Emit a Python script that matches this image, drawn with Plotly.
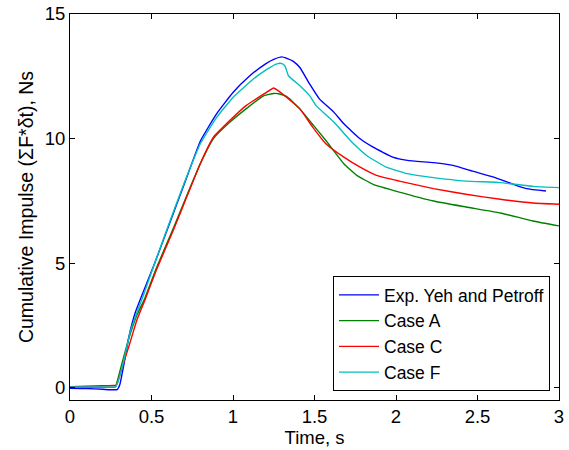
import plotly.graph_objects as go

# Exp. Yeh and Petroff
exp_t = [0, 0.1, 0.2, 0.26, 0.29, 0.305, 0.33, 0.36, 0.40, 0.45, 0.52, 0.6, 0.7, 0.8, 0.9,
         1.0, 1.1, 1.2, 1.25, 1.3, 1.33, 1.37, 1.41, 1.47, 1.53, 1.62, 1.68, 1.78, 1.86, 1.98,
         2.07, 2.23, 2.35, 2.47, 2.6, 2.72, 2.8, 2.92]
exp_v = [-0.03, -0.04, -0.07, -0.09, -0.08, 0.1, 0.9, 2.0, 3.0, 3.85, 5.0, 6.4, 8.15, 9.9, 11.0,
         11.85, 12.5, 13.0, 13.18, 13.28, 13.22, 13.1, 12.85, 12.19, 11.59, 11.05, 10.59, 9.99, 9.65, 9.25,
         9.12, 9.03, 8.92, 8.69, 8.45, 8.16, 7.99, 7.89]

# Case A
a_t = [0, 0.1, 0.2, 0.27, 0.28, 0.32, 0.36, 0.41, 0.46, 0.53, 0.634, 0.716, 0.8, 0.88, 0.98, 1.08,
       1.19, 1.25, 1.28, 1.33, 1.41, 1.47, 1.57, 1.68, 1.76, 1.86, 2.02, 2.23, 2.43, 2.64, 2.84, 3.0]
a_v = [0.01, 0.01, 0.01, 0.01, 0.05, 1.0, 1.95, 2.9, 3.6, 4.8, 6.4, 7.7, 9.0, 10.0, 10.65, 11.19,
       11.72, 11.81, 11.8, 11.68, 11.19, 10.72, 9.92, 8.99, 8.52, 8.16, 7.85, 7.49, 7.25, 7.01, 6.69, 6.49]

# Case C
c_t = [0, 0.1, 0.2, 0.27, 0.285, 0.32, 0.368, 0.41, 0.46, 0.53, 0.634, 0.716, 0.8, 0.88, 0.98, 1.08,
       1.19, 1.25, 1.27, 1.33, 1.41, 1.49, 1.57, 1.68, 1.78, 1.88, 2.02, 2.23, 2.43, 2.64, 2.84, 3.0]
c_v = [0.03, 0.05, 0.07, 0.08, 0.1, 0.8, 1.8, 2.7, 3.52, 4.72, 6.32, 7.65, 9.0, 10.05, 10.72, 11.32,
       11.79, 12.03, 11.95, 11.65, 11.19, 10.45, 9.79, 9.25, 8.85, 8.52, 8.29, 7.99, 7.76, 7.56, 7.41, 7.36]

# Case F
f_t = [0, 0.1, 0.2, 0.28, 0.29, 0.327, 0.368, 0.41, 0.45, 0.52, 0.6, 0.7, 0.8, 0.9, 1.0,
       1.125, 1.21, 1.27, 1.3, 1.32, 1.34, 1.41, 1.47, 1.51, 1.62, 1.72, 1.82, 1.94, 2.07, 2.23, 2.43,
       2.64, 2.84, 3.0]
f_v = [0.02, 0.02, 0.02, 0.03, 0.15, 1.0, 2.2, 3.0, 3.7, 5.0, 6.45, 8.2, 9.8, 10.85, 11.65,
       12.39, 12.79, 13.0, 13.01, 12.9, 12.52, 12.12, 11.72, 11.32, 10.65, 9.92, 9.32, 8.85, 8.59, 8.43, 8.29,
       8.23, 8.08, 8.03]

x_ticks = [0, 0.5, 1, 1.5, 2, 2.5, 3]
x_tick_labels = ["0", "0.5", "1", "1.5", "2", "2.5", "3"]
y_ticks = [0, 5, 10, 15]
y_tick_labels = ["0", "5", "10", "15"]

series = [
    ("Exp. Yeh and Petroff", exp_t, exp_v, "#0000FF"),
    ("Case A", a_t, a_v, "#008000"),
    ("Case C", c_t, c_v, "#FF0000"),
    ("Case F", f_t, f_v, "#00BFBF"),
]

FONT = "Liberation Sans"
FS = 18.5

fig = go.Figure()
for name, t, v, col in series:
    fig.add_trace(go.Scatter(x=t, y=v, mode="lines", name=name,
                             line=dict(color=col, width=1.4, shape="spline", smoothing=0.4)))

axis_common = dict(showline=True, linecolor="black", linewidth=1, mirror="ticks",
                   ticks="inside", ticklen=5, tickcolor="black", showgrid=False,
                   zeroline=False, automargin=False,
                   tickfont=dict(family=FONT, size=FS, color="black"))

fig.update_layout(
    width=569, height=450,
    margin=dict(l=70, r=10, t=14, b=50, autoexpand=False),
    paper_bgcolor="white", plot_bgcolor="white",
    font=dict(family=FONT, size=FS, color="black"),
    xaxis=dict(range=[0, 3], tickvals=x_ticks, ticktext=x_tick_labels,
               title=dict(text="Time, s", font=dict(family=FONT, size=FS), standoff=4),
               **axis_common),
    yaxis=dict(range=[-0.5, 15], tickvals=y_ticks, ticktext=y_tick_labels,
               title=dict(text="Cumulative Impulse (ΣF*δt), Ns", font=dict(family=FONT, size=19.5), standoff=5),
               **axis_common),
    legend=dict(x=0.9816, y=0.0233, xanchor="right", yanchor="bottom",
                bgcolor="white", bordercolor="black", borderwidth=1,
                font=dict(family=FONT, size=17.5, color="black"),
                itemwidth=40, tracegroupgap=0),
    showlegend=True,
)

fig.write_html("out.html", config={"displayModeBar": False},
               post_script="document.body.style.margin='0px';document.body.style.padding='0px';")
